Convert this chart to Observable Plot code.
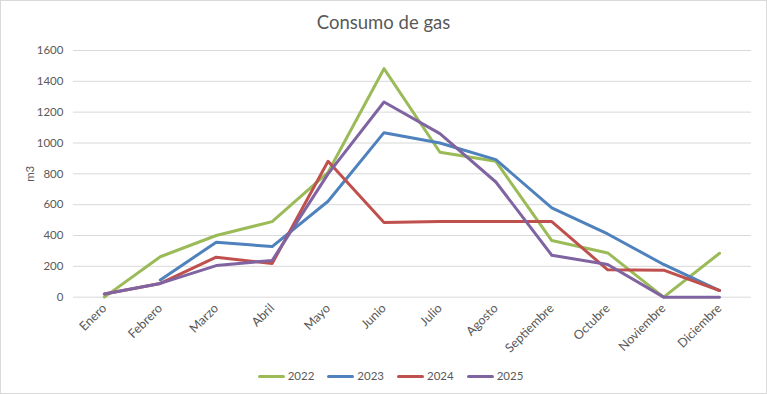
<!DOCTYPE html>
<html>
<head>
<meta charset="utf-8">
<script src="https://cdn.jsdelivr.net/npm/d3@7"></script>
<script src="https://cdn.jsdelivr.net/npm/@observablehq/plot@0.6"></script>
<style>
  html, body { margin: 0; padding: 0; background: #fff; }
  #wrap { position: relative; width: 767px; height: 394px; box-sizing: border-box; border: 1px solid #d9d9d9; background: #fff; font-family: Lato, "Liberation Sans", sans-serif; color: #595959; overflow: hidden; }
  #title { position: absolute; left: 0; right: 0; top: 9px; text-align: center; font-size: 18.5px; line-height: 24px; }
  #chart { position: absolute; left: -1px; top: 39px; }
  #legend { position: absolute; left: 14px; right: 0; top: 366px; display: flex; justify-content: center; gap: 13px; font-size: 11.5px; line-height: 18px; }
  #legend .item { display: flex; align-items: center; }
  #legend .sw { display: inline-block; width: 27px; height: 3px; border-radius: 2px; margin-right: 3px; }
</style>
</head>
<body>
<div id="wrap">
  <div id="title">Consumo de gas</div>
  <div id="chart"></div>
  <div id="legend"></div>
</div>
<script>
const months = ["Enero","Febrero","Marzo","Abril","Mayo","Junio","Julio","Agosto","Septiembre","Octubre","Noviembre","Diciembre"];
const years = ["2022","2023","2024","2025"];
const colors = ["#9BBB59","#4F81BD","#C0504D","#8064A2"];
const v2022 = [0, 262, 400, 490, 810, 1482, 940, 881, 367, 287, 0, 285];
const v2023 = [null, 112, 356, 328, 622, 1067, 1000, 892, 579, 410, 212, 43];
const v2024 = [20, 89, 259, 218, 881, 484, 490, 490, 490, 177, 175, 43];
const v2025 = [21, 89, 205, 238, 800, 1266, 1061, 747, 272, 212, 0, 0];
const yTicks = [0, 200, 400, 600, 800, 1000, 1200, 1400, 1600];

const series = [v2022, v2023, v2024, v2025];
const data = [];
years.forEach((yr, k) => {
  months.forEach((m, i) => data.push({year: yr, month: m, value: series[k][i]}));
});

const chart = Plot.plot({
  width: 767,
  height: 320,
  marginTop: 10,
  marginBottom: 63,
  marginLeft: 75,
  marginRight: 18,
  style: {fontFamily: "Lato, 'Liberation Sans', sans-serif", fontSize: "11.5px", color: "#595959", background: "transparent"},
  x: {type: "point", domain: months, padding: 0.5},
  y: {domain: [0, 1600]},
  color: {domain: years, range: colors},
  marks: [
    Plot.ruleY(yTicks, {stroke: "#d9d9d9", strokeWidth: 1, insetLeft: -2, insetRight: -3}),
    Plot.axisY(yTicks, {tickSize: 0, tickPadding: 12, tickFormat: d => String(d), label: "m3", labelAnchor: "center", labelArrow: "none", labelOffset: 50, fill: "#595959"}),
    Plot.axisX({tickSize: 0, tickRotate: -45, tickPadding: 9, label: null, fill: "#595959", fontSize: 12.5}),
    Plot.line(data, {x: "month", y: "value", z: "year", stroke: "year", strokeWidth: 3, strokeLinecap: "round", strokeLinejoin: "round"})
  ]
});
document.getElementById("chart").appendChild(chart);

const legend = document.getElementById("legend");
years.forEach((yr, k) => {
  const item = document.createElement("div");
  item.className = "item";
  const sw = document.createElement("span");
  sw.className = "sw";
  sw.style.background = colors[k];
  const t = document.createElement("span");
  t.textContent = yr;
  item.appendChild(sw);
  item.appendChild(t);
  legend.appendChild(item);
});
</script>
</body>
</html>
